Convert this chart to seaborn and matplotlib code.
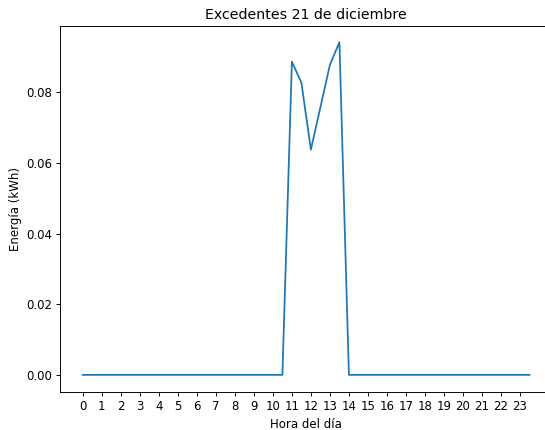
import numpy as np
import pandas as pd
import matplotlib
matplotlib.use('Agg')
import matplotlib.pyplot as plt
import seaborn as sb

# horas en pasos de media hora
horas = [h / 2 for h in range(48)]
excedentes = [0.0] * 48
excedentes[22] = 0.0887   # 11:00
excedentes[23] = 0.0827   # 11:30
excedentes[24] = 0.0638   # 12:00
excedentes[25] = 0.0758   # 12:30
excedentes[26] = 0.0878   # 13:00
excedentes[27] = 0.0942   # 13:30

df = pd.DataFrame({'hora': horas, 'energia': excedentes})

# todo a escala 0.85 del tamaño por defecto
k = 0.85
plt.rcParams['font.size'] = 10 * k
plt.rcParams['xtick.major.pad'] = 3.5 * k
plt.rcParams['ytick.major.pad'] = 3.5 * k
plt.rcParams['xtick.major.size'] = 3.5 * k
plt.rcParams['ytick.major.size'] = 3.5 * k
plt.rcParams['axes.labelpad'] = 4 * k
plt.rcParams['axes.titlepad'] = 6 * k
plt.rcParams['axes.linewidth'] = 0.8 * k
plt.rcParams['xtick.major.width'] = 0.8 * k
plt.rcParams['ytick.major.width'] = 0.8 * k

fig = plt.figure(figsize=(5.45, 4.3), dpi=100)
# la figura original esta recortada por la derecha
ax = fig.add_axes([0.111, 0.0895, 0.9015, 0.851])
sb.lineplot(data=df, x='hora', y='energia', linewidth=1.5 * k, ax=ax)
ax.set_xticks(range(24))
ax.set_title('Excedentes 21 de diciembre', fontsize=12 * k)
ax.set_xlabel('Hora del día')
ax.set_ylabel('Energía (kWh)')
plt.savefig('out.png')
